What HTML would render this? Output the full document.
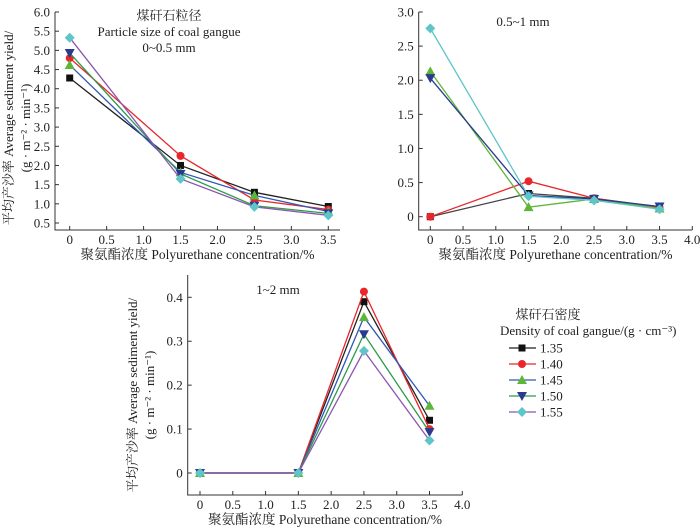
<!DOCTYPE html>
<html><head><meta charset="utf-8"><style>
html,body{margin:0;padding:0;background:#fff;}
svg{display:block;}
svg text{fill:#222;font-family:"Liberation Serif","Noto Serif CJK SC",serif;}
</style></head><body>
<svg id="chart" width="700" height="527" viewBox="0 0 700 527" xmlns="http://www.w3.org/2000/svg" font-family="Liberation Serif, Noto Serif CJK SC, serif"></svg>
<script>
const seriesNames = ['1.35','1.40','1.45','1.50','1.55'];
const xValues = [0, 1.5, 2.5, 3.5];
const panelA = [
  [4.28, 2.0, 1.3, 0.93],
  [4.8, 2.25, 1.1, 0.85],
  [4.62, 1.82, 1.22, 0.8],
  [4.93, 1.78, 0.95, 0.75],
  [5.33, 1.65, 0.92, 0.7]
];
const panelB = [
  [0, 0.34, 0.27, 0.14],
  [0, 0.52, 0.27, 0.13],
  [2.13, 0.14, 0.26, 0.12],
  [2.03, 0.31, 0.26, 0.15],
  [2.76, 0.3, 0.24, 0.11]
];
const panelC = [
  [0, 0, 0.39, 0.12],
  [0, 0, 0.413, 0.10],
  [0, 0, 0.355, 0.153],
  [0, 0, 0.316, 0.093],
  [0, 0, 0.278, 0.074]
];
const ticksAY = ['0.5','1.0','1.5','2.0','2.5','3.0','3.5','4.0','4.5','5.0','5.5','6.0'];
const ticksAX = ['0','0.5','1.0','1.5','2.0','2.5','3.0','3.5'];
const ticksBY = ['0','0.5','1.0','1.5','2.0','2.5','3.0'];
const ticksX4 = ['0','0.5','1.0','1.5','2.0','2.5','3.0','3.5','4.0'];
const ticksCY = ['0','0.1','0.2','0.3','0.4'];

const markerColors = ['#111','#e8262b','#5fb53a','#2a3a8f','#5ec5c9'];
const lineColorsLegend = ['#222','#e8262b','#2f58b8','#2f9a4a','#8a55b0'];
const lineColorsB = ['#444','#e8262b','#5fb53a','#2a3a8f','#5ec5c9'];
const markerShapes = ['square','circle','tri','itri','diamond'];

const svg = document.getElementById('chart');
const NS = 'http://www.w3.org/2000/svg';
function mk(tag, attrs, parent){
  const e = document.createElementNS(NS, tag);
  for (const k in attrs) e.setAttribute(k, attrs[k]);
  (parent||svg).appendChild(e);
  return e;
}
function marker(shape, cx, cy, color, g){
  let e;
  if (shape==='square') e = mk('rect',{x:cx-3.5,y:cy-3.5,width:7,height:7,fill:color},g);
  else if (shape==='circle') e = mk('circle',{cx:cx,cy:cy,r:4,fill:color},g);
  else if (shape==='tri') e = mk('polygon',{points:`${cx},${cy-5} ${cx-5},${cy+4} ${cx+5},${cy+4}`,fill:color},g);
  else if (shape==='itri') e = mk('polygon',{points:`${cx},${cy+5} ${cx-5},${cy-4} ${cx+5},${cy-4}`,fill:color},g);
  else e = mk('polygon',{points:`${cx},${cy-5} ${cx+5},${cy} ${cx},${cy+5} ${cx-5},${cy}`,fill:color},g);
  return e;
}
function panel(cfg){
  const g = mk('g',{});
  
  
  const sx = v => cfg.x0 + (v - 0) * (cfg.x1 - cfg.x0) / cfg.xmax;
  const sy = v => cfg.y0 + (v - cfg.ymin) * (cfg.y1 - cfg.y0) / (cfg.ymax - cfg.ymin);
  const ax = mk('path',{d:`M${cfg.axL},${cfg.axTop} V${cfg.axB} H${cfg.axR}`,fill:'none',stroke:'#333','stroke-width':1},g);
  
  
  cfg.yt.forEach(t=>{
    const y = sy(parseFloat(t));
    mk('line',{x1:cfg.axL,x2:cfg.axL+4,y1:y,y2:y,stroke:'#333'},g);
    const tx = mk('text',{x:cfg.axL-5,y:y+4.5,'text-anchor':'end','font-size':13},g);
    tx.textContent = t;
    
    
  });
  cfg.xt.forEach(t=>{
    const x = sx(parseFloat(t));
    mk('line',{x1:x,x2:x,y1:cfg.axB,y2:cfg.axB-4,stroke:'#333'},g);
    const tx = mk('text',{x:x,y:cfg.axB+14,'text-anchor':'middle','font-size':13},g);
    tx.textContent = t;
    
    
  });
  const xt = mk('text',{x:(cfg.axL+cfg.axR)/2,y:cfg.axB+29,'text-anchor':'middle','font-size':13.5},g);
  xt.textContent = '聚氨酯浓度 Polyurethane concentration/%';
  
  
  cfg.data.forEach((vals,i)=>{
    const sg = mk('g',{},g);
    
    
    const pts = vals.map((v,j)=>`${sx(xValues[j])},${sy(v)}`).join(' ');
    mk('polyline',{points:pts,fill:'none',stroke:cfg.lc[i],'stroke-width':1.3},sg);
    vals.forEach((v,j)=>{
      const m = marker(markerShapes[i], sx(xValues[j]), sy(v), markerColors[i], sg);
      
      
    });
  });
  return g;
}
panel({name:'panel-0-0.5mm',x0:69.7,x1:328.3,xmax:3.5,ymin:0.5,ymax:6,y0:223,y1:12,axL:55,axR:340,axTop:12,axB:230,yt:ticksAY,xt:ticksAX,data:panelA,lc:lineColorsLegend});
panel({name:'panel-0.5-1mm',x0:430.3,x1:692.3,xmax:4,ymin:0,ymax:3,y0:216.7,y1:12,axL:418.7,axR:692.3,axTop:12,axB:230,yt:ticksBY,xt:ticksX4,data:panelB,lc:lineColorsB});
panel({name:'panel-1-2mm',x0:200,x1:462.3,xmax:4,ymin:0,ymax:0.4,y0:473,y1:297.3,axL:187.7,axR:462.3,axTop:275,axB:495,yt:ticksCY,xt:ticksX4,data:panelC,lc:lineColorsLegend});

function label(txt,x,y,size,name,anchor,rot){
  const t = mk('text',{x:x,y:y,'font-size':size,'text-anchor':anchor||'middle'});
  if (rot) t.setAttribute('transform',`rotate(-90 ${x} ${y})`);
  t.textContent = txt;
  
  
}
label('煤矸石粒径',169,20,13,'panel-title-zh');
label('Particle size of coal gangue',169,36,13,'panel-title-en');
label('0~0.5 mm',169,52,13,'panel-title-range');
label('0.5~1 mm',523,26,13,'panel-title-range-b');
label('1~2 mm',278,294,13,'panel-title-range-c');
label('平均产沙率 Average sediment yield/',13,128,13,'y-axis-title',null,true);
label('(g · m⁻² · min⁻¹)',30,128,13,'y-axis-unit',null,true);
label('平均产沙率 Average sediment yield/',137,395,13,'y-axis-title-c',null,true);
label('(g · m⁻² · min⁻¹)',154,395,13,'y-axis-unit-c',null,true);

const lg = mk('g',{});


label('煤矸石密度',548,319,13,'legend-title-zh');
label('Density of coal gangue/(g · cm⁻³)',500,335,13,'legend-title-en','start');
seriesNames.forEach((n,i)=>{
  const y = 348 + i*16;
  const eg = mk('g',{},lg);
  
  
  mk('line',{x1:509,x2:536,y1:y,y2:y,stroke:lineColorsLegend[i],'stroke-width':1.3},eg);
  marker(markerShapes[i],522,y,markerColors[i],eg);
  const t = mk('text',{x:540,y:y+4.5,'font-size':13},eg);
  t.textContent = n;
});
</script>
</body></html>
